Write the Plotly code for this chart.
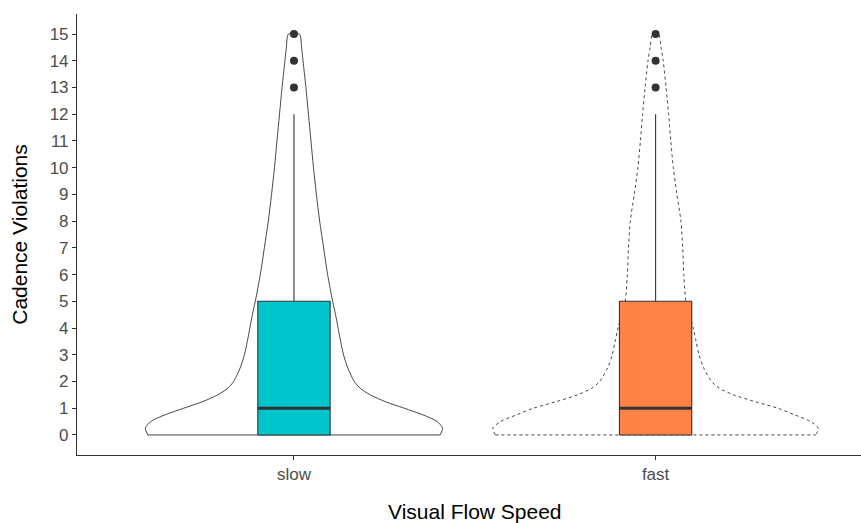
import plotly.graph_objects as go

# ---- data ----
categories = ["slow", "fast"]
cat_pos = [1, 2]

# violin profile: y levels and half-widths (in category units)
violin_y = [0, 0.25, 0.5, 0.75, 1.0, 1.25, 1.5, 1.75, 2.0, 2.5, 3, 3.5, 4, 4.5, 5,
            6, 7, 8, 9, 10, 11, 12, 13, 14, 14.5, 15]
slow_halfwidth = [0.404, 0.411, 0.396, 0.357, 0.305, 0.252, 0.211, 0.183, 0.167, 0.149,
                  0.137, 0.129, 0.122, 0.115, 0.107, 0.093, 0.082, 0.071, 0.062, 0.054,
                  0.047, 0.040, 0.033, 0.025, 0.021, 0.015]
fast_halfwidth = [0.443, 0.450, 0.429, 0.385, 0.338, 0.274, 0.216, 0.176, 0.155, 0.133,
                  0.120, 0.112, 0.104, 0.094, 0.084, 0.078, 0.075, 0.070, 0.059, 0.049,
                  0.042, 0.036, 0.029, 0.021, 0.015, 0.008]

# boxplot statistics
q1 = [0, 0]
median = [1, 1]
q3 = [5, 5]
lower_whisker = [0, 0]
upper_whisker = [12, 12]
outliers = [[13, 14, 15], [13, 14, 15]]

box_colors = ["#00C5CD", "#FF8247"]
violin_dash = ["solid", "dot"]
box_width = 0.2
dark = "#333333"

fig = go.Figure()

halfwidths = [slow_halfwidth, fast_halfwidth]
for i, c in enumerate(cat_pos):
    hw = halfwidths[i]
    xs = [c - w for w in hw] + [c + w for w in reversed(hw)]
    ys = list(violin_y) + list(reversed(violin_y))
    # outline (open spline path: up the left side, down the right side)
    fig.add_trace(go.Scatter(
        x=xs, y=ys, mode="lines", fill="toself", fillcolor="white",
        line=dict(color=dark, width=0.9, dash=violin_dash[i], shape="spline", smoothing=0.8),
        hoverinfo="skip", showlegend=False))
    # flat bottom edge (trimmed violin)
    fig.add_trace(go.Scatter(
        x=[c - hw[0], c + hw[0]], y=[violin_y[0], violin_y[0]], mode="lines",
        line=dict(color=dark, width=0.9, dash=violin_dash[i]),
        hoverinfo="skip", showlegend=False))

for i, c in enumerate(cat_pos):
    left, right = c - box_width / 2, c + box_width / 2
    # whiskers
    fig.add_trace(go.Scatter(
        x=[c, c, None, c, c], y=[q3[i], upper_whisker[i], None, q1[i], lower_whisker[i]],
        mode="lines", line=dict(color=dark, width=1.1),
        hoverinfo="skip", showlegend=False))
    # box
    fig.add_trace(go.Scatter(
        x=[left, right, right, left, left], y=[q1[i], q1[i], q3[i], q3[i], q1[i]],
        mode="lines", fill="toself", fillcolor=box_colors[i],
        line=dict(color=dark, width=1.1),
        hoverinfo="skip", showlegend=False))
    # median
    fig.add_trace(go.Scatter(
        x=[left, right], y=[median[i], median[i]],
        mode="lines", line=dict(color=dark, width=3.2),
        hoverinfo="skip", showlegend=False))
    # outliers
    fig.add_trace(go.Scatter(
        x=[c] * len(outliers[i]), y=outliers[i], mode="markers",
        marker=dict(color=dark, size=8), showlegend=False))

fig.update_layout(
    width=861, height=523,
    margin=dict(l=77, r=0, t=14, b=68),
    paper_bgcolor="white", plot_bgcolor="white",
    font=dict(family="Liberation Sans, Arial, sans-serif"),
    annotations=[dict(
        text="Visual Flow Speed", xref="paper", yref="paper",
        x=0.508, y=0, yshift=-56, xanchor="center", yanchor="middle",
        showarrow=False, font=dict(size=21, color="black"))],
)
fig.update_xaxes(
    range=[0.4, 2.568], tickvals=cat_pos, ticktext=categories,
    showline=True, linecolor=dark, linewidth=1.1, showgrid=False, zeroline=False,
    ticks="outside", ticklen=4, tickcolor=dark, tickwidth=1,
    tickfont=dict(size=17, color="#4D4D4D"),
    automargin=False,
)
fig.update_yaxes(
    range=[-0.75, 15.75], tick0=0, dtick=1,
    showline=True, linecolor=dark, linewidth=1.1, showgrid=False, zeroline=False,
    ticks="outside", ticklen=4, tickcolor=dark, tickwidth=1,
    tickfont=dict(size=17, color="#4D4D4D"),
    title=dict(text="Cadence Violations", font=dict(size=21, color="black"), standoff=16),
    automargin=False,
)

fig.write_html("out.html")
